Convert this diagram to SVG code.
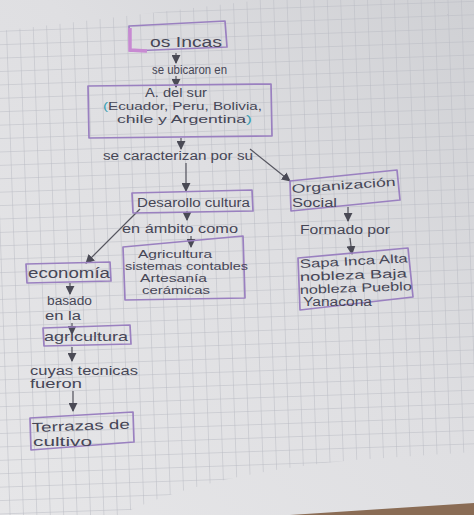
<svg xmlns="http://www.w3.org/2000/svg" width="474" height="515" viewBox="0 0 474 515">
<style>
.t{font-family:"Liberation Sans",Arial,sans-serif;fill:#464656;font-size:12px}
.s{font-size:11px}
.box{fill:none;stroke:#9a80c0;stroke-width:1.7;stroke-linejoin:round}
.c{fill:none;stroke:#55555f;stroke-width:1.2}
.grid{stroke:#b9bbc4;stroke-width:1}
</style>
<defs>
<linearGradient id="paper" x1="0" y1="1" x2="1" y2="0">
<stop offset="0" stop-color="#e6e6e8"/>
<stop offset="0.55" stop-color="#dfdfe2"/>
<stop offset="1" stop-color="#cfd0d4"/>
</linearGradient>
<pattern id="gp" width="13.4" height="13.4" patternUnits="userSpaceOnUse" patternTransform="rotate(-2) translate(5 4)">
<path d="M0,0 H13.4 M0,0 V13.4" class="grid" fill="none"/>
</pattern>
<clipPath id="gridArea">
<path d="M0,31 L260,0 L474,0 L474,452 L354,460 Q200,475 120,515 L0,515 Z"/>
</clipPath>
<marker id="ah" viewBox="0 0 10 10" refX="9" refY="5" markerWidth="9" markerHeight="9" markerUnits="userSpaceOnUse" orient="auto">
<path d="M0,0 L10,5 L0,10 Z" fill="#4a4a55"/>
</marker>
</defs>
<g id="background">
<rect x="0" y="0" width="474" height="515" fill="url(#paper)"/>
<rect x="0" y="0" width="474" height="515" fill="url(#gp)" clip-path="url(#gridArea)"/>
<path d="M290,515 L474,503 L474,515 Z" fill="#8a6c55"/>
</g>
<g id="connectors">
<path class="c" d="M176,53 L176,63" marker-end="url(#ah)"/>
<path class="c" d="M176,76 L176,87" marker-end="url(#ah)"/>
<path class="c" d="M181,138 L181,149" marker-end="url(#ah)"/>
<path class="c" d="M186,163 L186,191" marker-end="url(#ah)"/>
<path class="c" d="M250,149 L290,181" marker-end="url(#ah)"/>
<path class="c" d="M187,211 L187,220" marker-end="url(#ah)"/>
<path class="c" d="M191,236 L191,247" marker-end="url(#ah)"/>
<path class="c" d="M140,209 L86,263" marker-end="url(#ah)"/>
<path class="c" d="M348,207 L348,221" marker-end="url(#ah)"/>
<path class="c" d="M350,238 L352,254" marker-end="url(#ah)"/>
<path class="c" d="M70,283 L70,294" marker-end="url(#ah)"/>
<path class="c" d="M72,323 L72,334" marker-end="url(#ah)"/>
<path class="c" d="M72,347 L72,361" marker-end="url(#ah)"/>
<path class="c" d="M73,391 L73,411" marker-end="url(#ah)"/>
</g>
<g id="labels">
<text class="t" x="152" y="74" textLength="75" lengthAdjust="spacingAndGlyphs">se ubicaron en</text>
<text class="t" x="103" y="160" textLength="150" lengthAdjust="spacingAndGlyphs">se caracterizan por su</text>
<text class="t" x="122" y="233" textLength="116" lengthAdjust="spacingAndGlyphs">en ámbito como</text>
<text class="t" x="300" y="234" textLength="90" lengthAdjust="spacingAndGlyphs">Formado por</text>
<text class="t" x="47" y="305" textLength="45" lengthAdjust="spacingAndGlyphs">basado</text>
<text class="t" x="45" y="320" textLength="36" lengthAdjust="spacingAndGlyphs">en la</text>
<text class="t" x="30" y="375" textLength="108" lengthAdjust="spacingAndGlyphs">cuyas tecnicas</text>
<text class="t" x="30" y="388" textLength="52" lengthAdjust="spacingAndGlyphs">fueron</text>
</g>
<g id="node-incas">
<path class="box" d="M129,26 L225,21 L227,47 L130,51 Z"/>
<path d="M130,28 L130,50 L147,51" fill="none" stroke="#c88ad2" stroke-width="3.5" stroke-linejoin="miter"/>
<text class="t" style="font-size:14px" x="150" y="47" textLength="72" lengthAdjust="spacingAndGlyphs">os Incas</text>
</g>
<g id="node-sur">
<path class="box" d="M88,86 L271,84 L272,136 L89,138 Z"/>
<text class="t" x="145" y="97" textLength="62" lengthAdjust="spacingAndGlyphs">A. del sur</text>
<text class="t s" x="103" y="110" textLength="159" lengthAdjust="spacingAndGlyphs"><tspan style="fill:#3a9fb4">(</tspan>Ecuador, Peru, Bolivia,</text>
<text class="t s" x="117" y="123" textLength="135" lengthAdjust="spacingAndGlyphs">chile  y  Argentina<tspan style="fill:#3a9fb4">)</tspan></text>
</g>
<g id="node-desarrollo">
<path class="box" d="M132,193 L252,190 L253,211 L133,213 Z"/>
<text class="t" x="137" y="207" textLength="113" lengthAdjust="spacingAndGlyphs">Desarollo cultura</text>
</g>
<g id="node-organizacion">
<path class="box" d="M290,181 L397,170 L400,200 L291,211 Z"/>
<text class="t" x="292" y="193" textLength="104" lengthAdjust="spacingAndGlyphs" transform="rotate(-4 292 193)">Organización</text>
<text class="t" x="292" y="207" textLength="45" lengthAdjust="spacingAndGlyphs">Social</text>
</g>
<g id="node-ambito">
<path class="box" d="M123,247 L243,236 L245,298 L125,300 Z"/>
<text class="t s" x="138" y="258" textLength="74" lengthAdjust="spacingAndGlyphs">Agricultura</text>
<text class="t s" x="125" y="270" textLength="123" lengthAdjust="spacingAndGlyphs">sistemas contables</text>
<text class="t s" x="140" y="282" textLength="67" lengthAdjust="spacingAndGlyphs">Artesanía</text>
<text class="t s" x="142" y="294" textLength="68" lengthAdjust="spacingAndGlyphs">cerámicas</text>
</g>
<g id="node-clases">
<path class="box" d="M298,258 L408,248 L413,297 L300,310 Z"/>
<text class="t" x="300" y="268" textLength="108" lengthAdjust="spacingAndGlyphs" transform="rotate(-3 300 268)">Sapa Inca Alta</text>
<text class="t" x="300" y="281" textLength="107" lengthAdjust="spacingAndGlyphs" transform="rotate(-2 300 281)">nobleza Baja</text>
<text class="t" x="300" y="294" textLength="112" lengthAdjust="spacingAndGlyphs" transform="rotate(-2 300 294)">nobleza Pueblo</text>
<text class="t" x="303" y="306" textLength="69" lengthAdjust="spacingAndGlyphs">Yanacona</text>
</g>
<g id="node-economia">
<path class="box" d="M26,264 L110,262 L111,281 L27,283 Z"/>
<text class="t" style="font-size:14px" x="28" y="278" textLength="82" lengthAdjust="spacingAndGlyphs">economía</text>
</g>
<g id="node-agricultura">
<path class="box" d="M43,328 L130,325 L131,344 L44,346 Z"/>
<text class="t" style="font-size:13px" x="44" y="341" textLength="84" lengthAdjust="spacingAndGlyphs">agricultura</text>
</g>
<g id="node-terrazas">
<path class="box" d="M30,418 L133,412 L134,442 L31,450 Z"/>
<text class="t" style="font-size:13px" x="32" y="432" textLength="98" lengthAdjust="spacingAndGlyphs" transform="rotate(-2 32 432)">Terrazas de</text>
<text class="t" style="font-size:13px" x="33" y="446" textLength="59" lengthAdjust="spacingAndGlyphs">cultivo</text>
</g>
</svg>
